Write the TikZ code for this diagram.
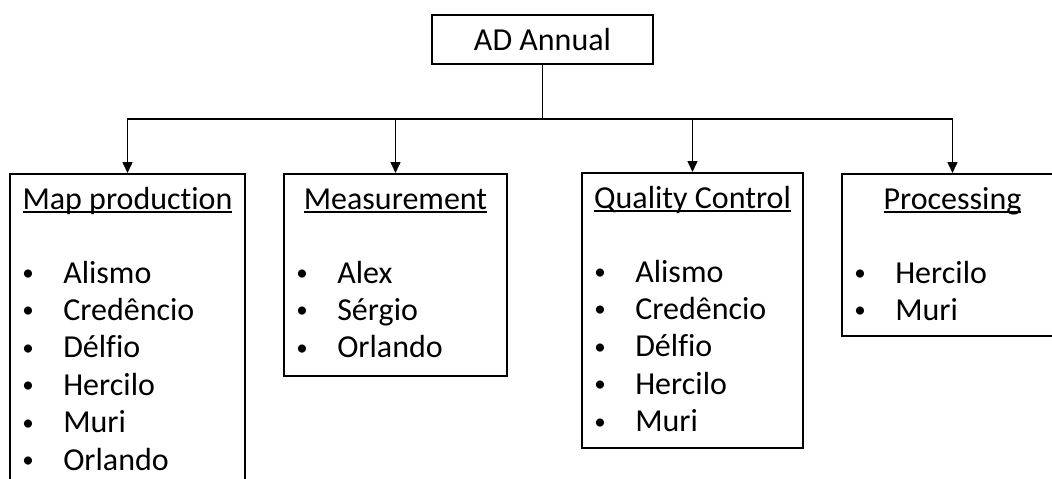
\documentclass[tikz,border=0pt]{standalone}
\usepackage{fontspec}
\setmainfont{Carlito}[Ligatures=NoCommon]
\usetikzlibrary{positioning}
\usetikzlibrary{arrows.meta}
\newcommand{\hd}[1]{\setbox0\hbox{#1}\rlap{\rule[-3.6pt]{\wd0}{1.5pt}}\box0}
\newcommand{\nm}[1]{\makebox[42pt][l]{\hspace{1pt}\raisebox{2.5pt}{\fontsize{23}{23}\selectfont\textbullet}}#1}
\tikzset{
thickline/.style={line width=1.8pt},
unit/.style={draw, thickline, inner sep=0pt, anchor=north},
heading/.style={inner sep=0pt, anchor=base},
names/.style={inner sep=0pt, anchor=base west},
link/.style={line width=1.5pt, -{Triangle[length=11pt,width=10pt]}},
}
\begin{document}
\begin{tikzpicture}[x=1pt, y=-1pt, font=\fontsize{32}{37.4}\selectfont]
\useasboundingbox (0,0) rectangle (1052,479);
\node[draw, thickline, minimum width=221pt, minimum height=49pt] (ad) at (542.5,39.5) {AD Annual};

\node[unit, minimum width=235pt, minimum height=340pt] (map) at (127.5,173) {};
\node[unit, minimum width=223pt, minimum height=202pt] (meas) at (395.5,173) {};
\node[unit, minimum width=221pt, minimum height=275pt] (qc) at (692.5,172) {};
\node[unit, minimum width=221pt, minimum height=162pt] (proc) at (952.5,173) {};

%
\node[heading] (maphd) at ([yshift=-36pt]map.north) {\hd{Map production}};
\node[heading] (meashd) at ([yshift=-36pt]meas.north) {\hd{Measurement}};
\node[heading] (qchd) at ([yshift=-36pt]qc.north) {\hd{Quality Control}};
\node[heading] (prochd) at ([yshift=-36pt]proc.north) {\hd{Processing}};

%
\node[names] (maplist) at ([xshift=12pt, yshift=-110pt]map.north west) {\begin{tabular}[t]{@{}l@{}}
\nm{Alismo}\\ \nm{Credêncio}\\ \nm{Délfio}\\ \nm{Hercilo}\\ \nm{Muri}\\ \nm{Orlando}
\end{tabular}};
\node[names] (measlist) at ([xshift=12pt, yshift=-110pt]meas.north west) {\begin{tabular}[t]{@{}l@{}}
\nm{Alex}\\ \nm{Sérgio}\\ \nm{Orlando}
\end{tabular}};
\node[names] (qclist) at ([xshift=12pt, yshift=-110pt]qc.north west) {\begin{tabular}[t]{@{}l@{}}
\nm{Alismo}\\ \nm{Credêncio}\\ \nm{Délfio}\\ \nm{Hercilo}\\ \nm{Muri}
\end{tabular}};
\node[names] (proclist) at ([xshift=12pt, yshift=-110pt]proc.north west) {\begin{tabular}[t]{@{}l@{}}
\nm{Hercilo}\\ \nm{Muri}
\end{tabular}};

%
\coordinate[below=54pt of ad.south] (hub);
\draw[thickline] (ad.south) -- (hub);
\draw[link] (hub) -| (map.north);
\draw[link] (hub) -| (meas.north);
\draw[link] (hub) -| (qc.north);
\draw[link] (hub) -| (proc.north);
\end{tikzpicture}
\end{document}
